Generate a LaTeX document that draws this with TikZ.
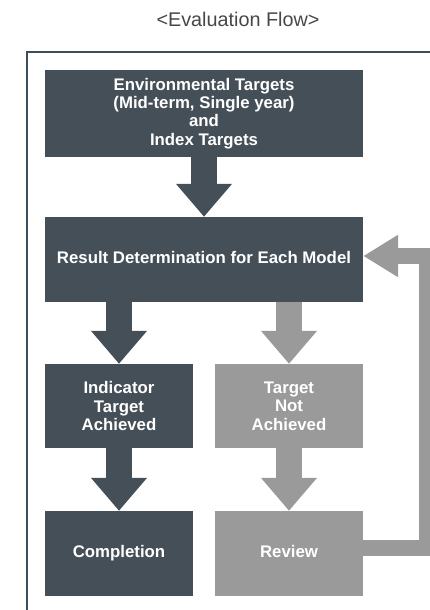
\documentclass[tikz,border=0pt]{standalone}
\usepackage{fontspec}
\setmainfont{Liberation Sans}
\usetikzlibrary{arrows.meta}

\definecolor{slate}{HTML}{454F58}
\definecolor{framecol}{HTML}{3B4E5C}
\definecolor{midgray}{HTML}{9A9A9A}

\tikzset{
  box/.style={rectangle, inner sep=0pt, text=white, align=center,
    font=\bfseries\fontsize{16.8}{18.3}\selectfont},
  darkbox/.style={box, fill=slate},
  greybox/.style={box, fill=midgray},
  oneline/.style={text height=12pt, text depth=3.5pt},
  fat/.style={line width=26pt, -{Triangle[width=54pt, length=33pt]}},
}

\begin{document}
\begin{tikzpicture}[x=1pt, y=-1pt]
  \useasboundingbox (0,0) rectangle (430,610);
  \node[font=\fontsize{19.8}{21}\selectfont, text=black!72] (title) at (238,19) {<Evaluation Flow>};
  \draw[framecol, line width=1.5pt] (430,52) -- (27,52) -- (27,610);
  %
  \node[darkbox, minimum width=318pt, minimum height=87pt] (env) at (204,113.5)
    {Environmental Targets\\(Mid-term, Single year)\\and\\Index Targets};
  \node[darkbox, oneline, minimum width=318pt, minimum height=85pt] (res) at (204,259.5)
    {Result Determination for Each Model};
  \node[darkbox, minimum width=148pt, minimum height=84pt] (ach) at (119,406)
    {Indicator\\Target\\Achieved};
  \node[greybox, minimum width=148pt, minimum height=84pt] (nach) at (289,406)
    {Target\\Not\\Achieved};
  \node[darkbox, oneline, minimum width=148pt, minimum height=85pt] (comp) at (119,553.5)
    {Completion};
  \node[greybox, oneline, minimum width=148pt, minimum height=85pt] (rev) at (289,553.5)
    {Review};
  %
  \draw[fat, slate] (env.south) -- (res.north);
  \draw[fat, slate] (res.south -| ach.north) -- (ach.north);
  \draw[fat, midgray] (res.south -| nach.north) -- (nach.north);
  \draw[fat, slate] (ach.south) -- (comp.north);
  \draw[fat, midgray] (nach.south) -- (rev.north);
  %
  \begin{scope}
    \clip (0,0) rectangle (430,610);
    \draw[midgray, line width=16pt, line join=miter, -{Triangle[width=40pt, length=35pt]}]
      ([yshift=5.5pt]rev.east) -- (427,548) -- (427,256) -- ([yshift=3.5pt]res.east);
  \end{scope}
\end{tikzpicture}
\end{document}
